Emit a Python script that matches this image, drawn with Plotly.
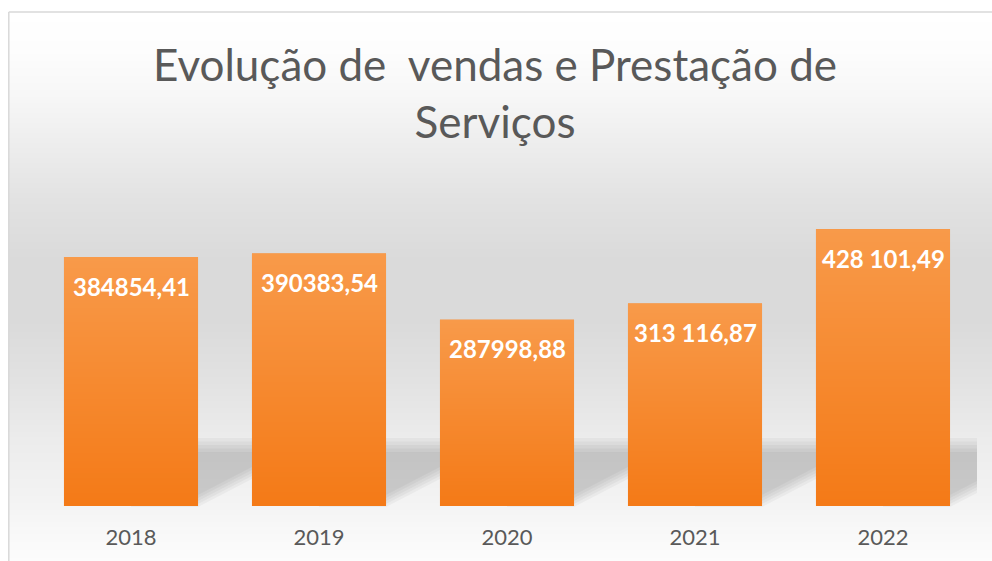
import base64
import struct
import zlib
import plotly.graph_objects as go

# ---------------- data ----------------
years = ["2018", "2019", "2020", "2021", "2022"]
values = [384854.41, 390383.54, 287998.88, 313116.87, 428101.49]
labels = ["384854,41", "390383,54", "287998,88", "313 116,87", "428 101,49"]
title_text = "Evolução de  vendas e Prestação de<br>Serviços"

# ---------------- layout constants ----------------
OFF = 0  # page body margin removed via post_script
W, H = 992, 561
PL, PR, PT, PB = 37 - OFF, 977 - OFF, 182.5 - OFF, 506 - OFF   # plot area in figure pixels
YMAX = 500000
BW = 0.713
FONT = "Lato"
idx = list(range(len(years)))


def png_column(rows):
    raw = b"".join(b"\x00" + bytes(c) * 2 for c in rows)

    def chunk(t, d):
        c = struct.pack(">I", len(d)) + t + d
        return c + struct.pack(">I", zlib.crc32(t + d) & 0xFFFFFFFF)

    ihdr = struct.pack(">IIBBBBB", 2, len(rows), 8, 2, 0, 0, 0)
    data = (b"\x89PNG\r\n\x1a\n" + chunk(b"IHDR", ihdr)
            + chunk(b"IDAT", zlib.compress(raw)) + chunk(b"IEND", b""))
    return "data:image/png;base64," + base64.b64encode(data).decode()


def interp(stops, y):
    for (y0, c0), (y1, c1) in zip(stops, stops[1:]):
        if y0 <= y <= y1:
            t = (y - y0) / (y1 - y0) if y1 > y0 else 0
            return tuple(int(round(a + (b - a) * t)) for a, b in zip(c0, c1))
    return stops[-1][1]


def g(v):
    return (v, v, v)


# stops given in screen pixels, shifted into figure pixels
bg_stops = [(0, g(255)), (12, g(255)), (50, g(253)), (100, g(246)), (150, g(236)),
            (200, g(226)), (260, g(218)), (320, g(218)), (380, g(226)), (440, g(236)),
            (500, g(243)), (530, g(248)), (561, g(252)), (600, g(253))]
bg_stops = [(max(0, y - OFF), c) for y, c in bg_stops]
bg_png = png_column([interp(bg_stops, y) for y in range(H)])

bar_stops = [(0, (248, 154, 74)), (100, (244, 122, 23))]
bar_png = png_column([interp(bar_stops, y) for y in range(101)])

fig = go.Figure()
fig.add_trace(go.Bar(
    x=idx, y=values, width=BW,
    marker=dict(color="#F68A30", line=dict(width=0)),
    hovertext=labels, hoverinfo="text",
))

images = [dict(source=bg_png, xref="paper", yref="paper", x=0, y=1, sizex=1, sizey=1,
               sizing="stretch", xanchor="left", yanchor="top", layer="below")]
for i, v in zip(idx, values):
    images.append(dict(source=bar_png, xref="x", yref="y", x=i - BW / 2, y=v,
                       sizex=BW, sizey=v, sizing="stretch",
                       xanchor="left", yanchor="top", layer="above"))


def py(p):
    """screen pixel row -> paper y"""
    return 1 - (p - OFF) / H


def px(p):
    """screen pixel column -> paper x"""
    return (p - OFF) / W


# white margin left of the chart border
shapes = [dict(type="rect", xref="paper", yref="paper", x0=0, x1=px(8), y0=0, y1=1,
               fillcolor="white", line=dict(width=0), layer="below")]

# floor shadows (soft, layered)
xmax = len(years) - 0.5 + 0.015
slope_px = 0.52
ppu = (PR - PL) / len(years)   # pixels per category unit
for i in idx:
    xr = i + BW / 2
    xl = i
    xe = min(xr + 0.3, xmax)
    for k in range(5):
        top = 438 + 3.5 * k
        bl = 507 - 3 * k
        br = bl - slope_px * (xe - xr) * ppu
        path = (f"M {xl},{py(top)} L {xe},{py(top)} L {xe},{py(br)} "
                f"L {xr},{py(bl)} L {xl},{py(bl)} Z")
        shapes.append(dict(type="path", path=path, xref="x", yref="paper",
                           fillcolor="rgba(0,0,0,0.037)", line=dict(width=0),
                           layer="below"))

# chart border
bx = px(8) + 0.0008
shapes.append(dict(type="line", xref="paper", yref="paper", x0=bx, x1=bx,
                   y0=0, y1=py(12), line=dict(color="#d9d9d9", width=1.5)))
shapes.append(dict(type="line", xref="paper", yref="paper", x0=bx, x1=1,
                   y0=py(12), y1=py(12), line=dict(color="#d9d9d9", width=1.5)))

annotations = [dict(x=px(495), y=py(36), xref="paper", yref="paper",
                    text=title_text, showarrow=False, xanchor="center", yanchor="top",
                    font=dict(family=FONT, size=44, color="#595959"))]
for i, v, t in zip(idx, values, labels):
    annotations.append(dict(x=i, y=v, xref="x", yref="y", text=t, showarrow=False,
                            yanchor="middle", yshift=-29,
                            font=dict(family=FONT, size=24, color="white", weight="bold")))

fig.update_layout(
    width=W, height=H,
    margin=dict(l=0, r=0, t=0, b=0),
    paper_bgcolor="white",
    plot_bgcolor="rgba(0,0,0,0)",
    showlegend=False,
    xaxis=dict(domain=[PL / W, PR / W], range=[-0.5, len(years) - 0.5],
               tickvals=idx, ticktext=years, showgrid=False, zeroline=False,
               showline=False, ticks="", fixedrange=True, ticklabelstandoff=16,
               tickfont=dict(family=FONT, size=22, color="#595959")),
    yaxis=dict(domain=[1 - PB / H, 1 - PT / H], range=[0, YMAX], visible=False,
               fixedrange=True),
    images=images,
    shapes=shapes,
    annotations=annotations,
)

fig.write_html(
    "out.html",
    config={"displayModeBar": False},
    post_script="document.body.style.margin='0';"
                "document.documentElement.style.overflow='hidden';"
                "document.body.style.overflow='hidden';",
)
